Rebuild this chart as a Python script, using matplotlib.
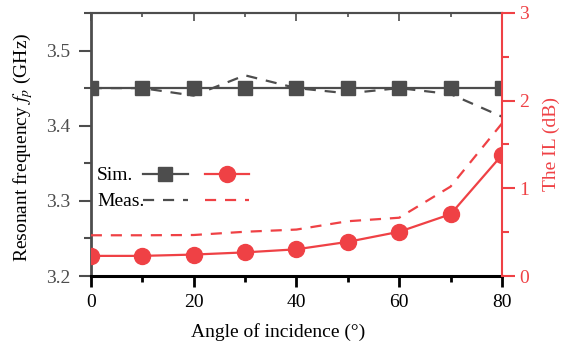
import numpy as np
import matplotlib
matplotlib.use('Agg')
from matplotlib import pyplot as plt
from matplotlib.ticker import MultipleLocator, FormatStrFormatter

# data
angle = [0, 10, 20, 30, 40, 50, 60, 70, 80]
freq_sim = [3.45, 3.45, 3.45, 3.45, 3.45, 3.45, 3.45, 3.45, 3.45]
freq_meas = [3.45, 3.45, 3.44, 3.467, 3.45, 3.443, 3.45, 3.442, 3.412]
il_sim = [0.23, 0.23, 0.245, 0.27, 0.305, 0.39, 0.505, 0.705, 1.38]
il_meas = [0.465, 0.465, 0.468, 0.505, 0.53, 0.625, 0.665, 1.02, 1.74]

grey = '#4d4d4d'
red = '#ef4145'

plt.rcParams['font.family'] = ['Liberation Serif', 'DejaVu Serif']
plt.rcParams['mathtext.fontset'] = 'stix'
plt.rcParams['font.size'] = 14

fig, ax = plt.subplots(figsize=(5.64, 3.49), dpi=100)
fig.subplots_adjust(left=0.161, right=0.890, bottom=0.209, top=0.963)
ax2 = ax.twinx()

dash = (5, 4)
g_sim, = ax.plot(angle, freq_sim, color=grey, lw=1.6, marker='s', ms=10, zorder=3)
g_meas, = ax.plot(angle, freq_meas, color=grey, lw=1.6, dashes=dash, zorder=2)
r_sim, = ax2.plot(angle, il_sim, color=red, lw=1.6, marker='o', ms=11.5, zorder=3)
r_meas, = ax2.plot(angle, il_meas, color=red, lw=1.6, dashes=dash, zorder=2)

ax.set_xlim(0, 80)
ax.set_ylim(3.2, 3.55)
ax2.set_ylim(0, 3)

ax.xaxis.set_major_locator(MultipleLocator(20))
ax.xaxis.set_minor_locator(MultipleLocator(10))
ax.yaxis.set_major_locator(MultipleLocator(0.1))
ax.yaxis.set_minor_locator(MultipleLocator(0.05))
ax.yaxis.set_major_formatter(FormatStrFormatter('%.1f'))
ax2.yaxis.set_major_locator(MultipleLocator(1))
ax2.yaxis.set_minor_locator(MultipleLocator(0.5))

ax.tick_params(axis='x', which='major', direction='out', length=8, width=2, color='black', pad=5)
ax.tick_params(axis='x', which='minor', direction='out', length=4, width=2, color='black')
ax.tick_params(axis='y', which='major', direction='out', length=9, width=1.5, color=grey,
               labelcolor=grey, pad=6)
ax.tick_params(axis='y', which='minor', direction='out', length=5, width=1.5, color=grey)
ax2.tick_params(axis='y', which='major', direction='out', length=9, width=1.5, color=red,
                labelcolor=red, pad=3.5)
ax2.tick_params(axis='y', which='minor', direction='out', length=5, width=1.5, color=red)

top = ax.secondary_xaxis('top')
top.set_xticks([0, 20, 40, 60, 80])
top.set_xticks([10, 30, 50, 70], minor=True)
top.tick_params(which='major', direction='in', length=6, width=1.2, color=grey, labeltop=False)
top.tick_params(which='minor', direction='in', length=3, width=1.2, color=grey)
top.spines['top'].set_color(grey)
top.spines['top'].set_linewidth(1.5)

ax.spines['left'].set_color(grey)
ax.spines['left'].set_linewidth(2)
ax.spines['top'].set_color(grey)
ax.spines['top'].set_linewidth(1.5)
ax.spines['bottom'].set_color('black')
ax.spines['bottom'].set_linewidth(2.2)
ax.spines['right'].set_visible(False)
for s in ['left', 'top', 'bottom']:
    ax2.spines[s].set_visible(False)
ax2.spines['right'].set_color(red)
ax2.spines['right'].set_linewidth(1.5)

ax.set_xlabel('Angle of incidence (°)')
ax.xaxis.set_label_coords(0.455, -0.179)
ax.set_ylabel('Resonant frequency $f_p$ (GHz)')
ax.yaxis.set_label_coords(-0.136, 0.49)
ax2.set_ylabel('The IL (dB)', color=red)
ax2.yaxis.set_label_coords(1.10, 0.5)

# legend: labels on the left, grey and red handles in two columns
fig.text(97 / 564, 1 - 176 / 349, 'Sim.', va='center', ha='left')
fig.text(97 / 564, 1 - 202 / 349, 'Meas.', va='center', ha='left')
leg = ax2.legend([g_sim, g_meas, r_sim, r_meas], ['', '', '', ''],
                 ncol=2, frameon=False, loc='center left',
                 bbox_to_anchor=(143 / 564, 1 - 189 / 349), bbox_transform=fig.transFigure,
                 handlelength=2.3, handletextpad=0, columnspacing=0.87,
                 labelspacing=0.4, borderpad=0, borderaxespad=0)

plt.savefig('out.png', dpi=100)
